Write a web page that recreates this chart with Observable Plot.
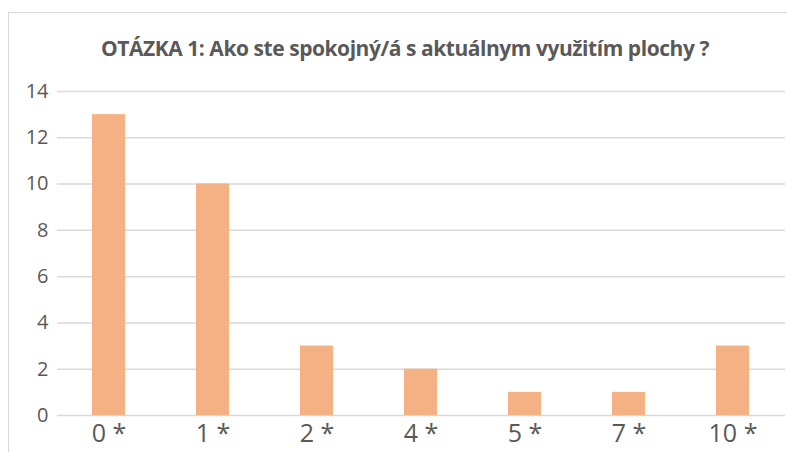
<!DOCTYPE html>
<html>
<head>
<meta charset="utf-8">
<script src="https://cdn.jsdelivr.net/npm/d3@7"></script>
<script src="https://cdn.jsdelivr.net/npm/@observablehq/plot@0.6"></script>
<style>
  body { margin: 0; background: #fff; }
  #wrap { position: relative; width: 787px; height: 452px; overflow: hidden; background: #fff; }
  #frame { position: absolute; left: 8px; top: 12px; width: 820px; height: 500px; border: 1px solid #d9d9d9; box-sizing: border-box; }
  #title { position: absolute; left: 5px; width: 800px; top: 34px; text-align: center; font-family: "Open Sans", sans-serif; font-weight: bold; font-size: 21px; color: #595959; letter-spacing: -0.45px; white-space: nowrap; }
  #chart { position: absolute; left: 0; top: 0; }
</style>
</head>
<body>
<div id="wrap">
  <div id="frame"></div>
  <div id="title">OTÁZKA 1: Ako ste spokojný/á s aktuálnym využitím plochy ?</div>
  <div id="chart"></div>
</div>
<script>
const categories = ["0 *", "1 *", "2 *", "4 *", "5 *", "7 *", "10 *"];
const values = [13, 10, 3, 2, 1, 1, 3];
const yTicks = [0, 2, 4, 6, 8, 10, 12, 14];

const data = categories.map((c, i) => ({cat: c, val: values[i]}));

const plot = Plot.plot({
  width: 787,
  height: 452,
  marginTop: 91,
  marginBottom: 37,
  marginLeft: 57,
  marginRight: 2,
  style: {background: "transparent", fontFamily: "Open Sans, sans-serif", color: "#595959"},
  x: {domain: categories, paddingInner: 0.68, paddingOuter: 0.34, label: null},
  y: {domain: [0, 14], label: null, axis: null},
  marks: [
    Plot.ruleY(yTicks, {stroke: "#d9d9d9", strokeWidth: 1.5}),
    Plot.barY(data, {x: "cat", y: "val", fill: "#F4B183"}),
    Plot.text(yTicks, {y: d => d, text: d => String(d), frameAnchor: "left", textAnchor: "end", dx: -9, fontSize: 20, fill: "#595959"}),
    Plot.axisX({tickSize: 0, tickPadding: 9, fontSize: 25, fill: "#595959", label: null})
  ]
});
document.getElementById("chart").appendChild(plot);
</script>
</body>
</html>
